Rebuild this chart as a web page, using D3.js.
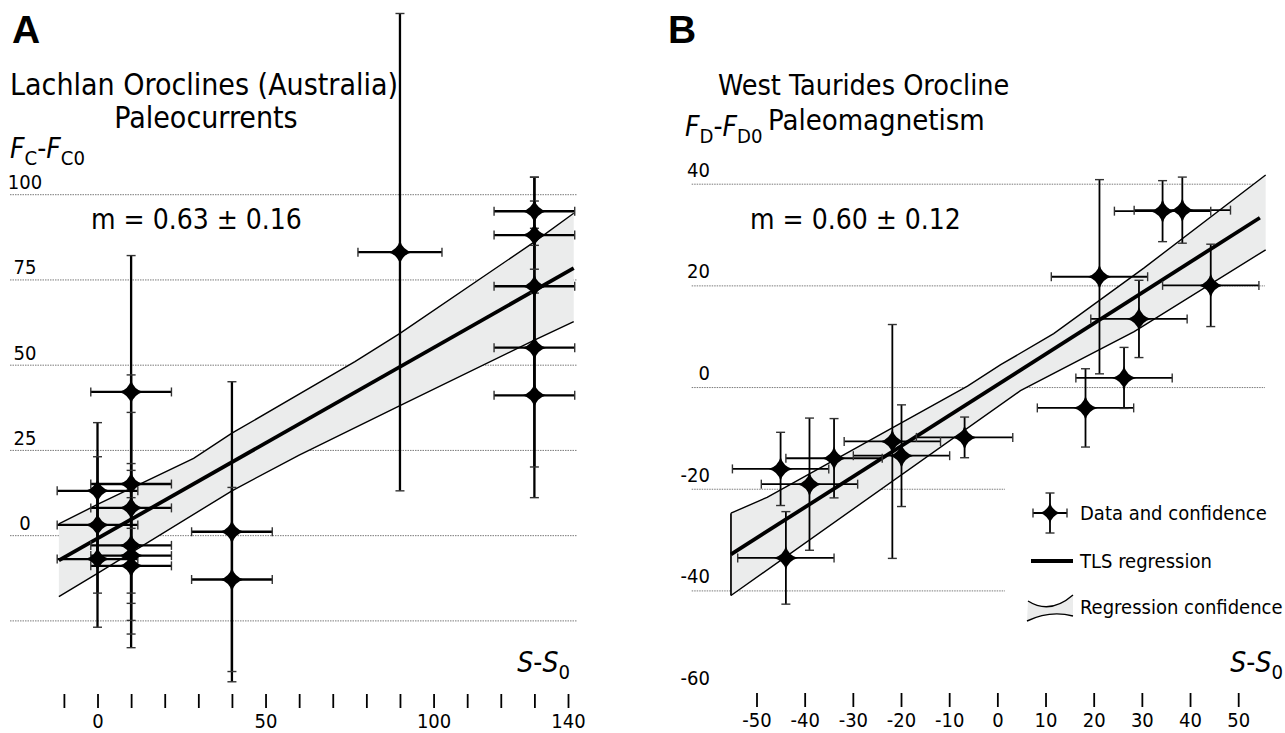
<!DOCTYPE html>
<html>
<head>
<meta charset="utf-8">
<script src="https://cdn.jsdelivr.net/npm/d3@7"></script>
<style>
    body { margin: 0; background: #fff; }
    text { font-family: "DejaVu Sans Condensed", "DejaVu Sans", sans-serif; font-stretch: condensed; fill: #000; }
</style>
</head>
<body>
<svg id="chart" width="1285" height="733"></svg>
<script>
// ---- panel A : Lachlan oroclines, paleocurrents ----
const aX    = [0, 0, 0, 10, 10, 10, 10, 10, 10, 40, 40, 90, 130, 130, 130, 130, 130]
const aY    = [13, 3, -7, 42, 15, 8, -3, -6, -9, 1, -13, 83, 95, 88, 73, 55, 41]
const aXErr = [12, 12, 12, 12, 12, 12, 12, 12, 12, 12, 12, 12.5, 12, 12, 12, 12, 12]
const aYErr = [20, 20, 20, 40, 32, 28, 22, 27, 20, 44, 27, 70, 10, 10, 32, 35, 30]
const aLineX = [-11.5, 141.7]
const aLineY = [-7.4, 78.3]
const aBandUpX = [-11.5, 0, 28.6, 40, 76.6, 90, 130, 141.7]
const aBandUp  = [3.3, 9.0, 22.5, 29.9, 50.9, 59.2, 86, 94.4]
const aBandLoX = [-11.5, 0, 40, 60, 90, 130, 141.7]
const aBandLo  = [-18, -11.2, 13, 23.5, 38, 57.2, 62.6]
const aGrid = [-25, 0, 25, 50, 75, 100]
const aYLabels = [0, 25, 50, 75, 100]
const aTicks = [-10, 0, 10, 20, 30, 40, 50, 60, 70, 80, 90, 100, 110, 120, 130, 140]
const aTickLabels = [0, 50, 100, 140]

// ---- panel B : West Taurides orocline, paleomagnetism ----
const bX    = [-45, -39, -33.9, -43.9, -21.8, -19.9, -6.8, 18.3, 26.3, 21.2, 29.4, 34.3, 38.4, 44.3]
const bY    = [-16.1, -19.1, -14, -33.6, -10.7, -13.5, -9.9, -4.1, 1.8, 21.7, 13.4, 34.6, 34.8, 20]
const bXErr = [10, 10, 10, 10, 10, 10, 10, 10, 10, 10, 10, 10, 10, 10]
const bYErr = [7.2, 13, 7.8, 9.1, 23, 10, 4, 7.7, 6, 19.1, 7.6, 6, 6.5, 8.1]
const bLineX = [-55.3, 54.5]
const bLineY = [-32.9, 33.3]
const bBandUpX = [-55.3, -47.8, -6.2, 0.7, 11.7, 30.4, 55.7]
const bBandUp  = [-24.8, -21.7, 0.2, 4.4, 10.5, 23.4, 41.7]
const bBandLoX = [-55.3, 4.8, 28.4, 55.7]
const bBandLo  = [-41, -0.7, 10.9, 27]
const bGridLong = [0, 20, 40]
const bGridShort = [-40, -20]
const bYLabels = [-60, -40, -20, 0, 20, 40]
const bTicks = [-50, -40, -30, -20, -10, 0, 10, 20, 30, 40, 50]

const legendLabels = ["Data and confidence", "TLS regression", "Regression confidence"]

const svg = d3.select("#chart")

const xA = d3.scaleLinear().domain([-10, 140]).range([63.9, 568])
const yA = d3.scaleLinear().domain([-25, 100]).range([620.4, 194.2])
const xB = d3.scaleLinear().domain([-50, 50]).range([756.5, 1238.2])
const yB = d3.scaleLinear().domain([-60, 40]).range([692.1, 183.7])

// four pointed star used for every data point
const star = (r) => {
    const c = 2.6
    return `M0,${-r}Q${c},${-c} ${r},0Q${c},${c} 0,${r}Q${-c},${c} ${-r},0Q${-c},${-c} 0,${-r}Z`
}

const grid = (g, y, vals, x0, x1) => g
    .attr("transform", `translate(${x0},0)`)
    .call(d3.axisLeft(y).tickValues(vals).tickSize(-(x1 - x0)).tickFormat(""))
    .call(g => g.select(".domain").remove())
    .call(g => g.selectAll(".tick line")
        .attr("stroke", "#7a7a7a")
        .attr("stroke-width", 1)
        .attr("stroke-dasharray", "1.5,1"))

const drawBand = (g, x, y, upX, up, loX, lo, leftEdge) => {
    const upPts = upX.map((d, i) => [x(d), y(up[i])])
    const loPts = loX.map((d, i) => [x(d), y(lo[i])])
    g.append("path")
        .attr("d", d3.line()(upPts.concat(loPts.slice().reverse())) + "Z")
        .attr("fill", "#ebecec")
    g.append("path").attr("d", d3.line()(upPts))
        .attr("fill", "none").attr("stroke", "#000").attr("stroke-width", 1.4)
    g.append("path").attr("d", d3.line()(loPts))
        .attr("fill", "none").attr("stroke", "#000").attr("stroke-width", 1.4)
    if (leftEdge) {
        g.append("line")
            .attr("x1", upPts[0][0]).attr("y1", upPts[0][1])
            .attr("x2", loPts[0][0]).attr("y2", loPts[0][1])
            .attr("stroke", "#000").attr("stroke-width", 1.7)
    }
}

const drawLine = (g, x, y, lx, ly) => {
    g.append("line")
        .attr("x1", x(lx[0])).attr("y1", y(ly[0]))
        .attr("x2", x(lx[1])).attr("y2", y(ly[1]))
        .attr("stroke", "#000").attr("stroke-width", 3.8)
}

const drawPoints = (g, x, y, xs, ys, xe, ye, w) => {
    const pts = xs.map((d, i) => ({ x: d, y: ys[i], xe: xe[i], ye: ye[i] }))
    const cap = 4.5
    const bars = g.append("g").attr("stroke", "#000")
    bars.selectAll(".hbar").data(pts).join("line")
        .attr("x1", d => x(d.x - d.xe)).attr("x2", d => x(d.x + d.xe))
        .attr("y1", d => y(d.y)).attr("y2", d => y(d.y))
        .attr("stroke-width", w)
    bars.selectAll(".vbar").data(pts).join("line")
        .attr("x1", d => x(d.x)).attr("x2", d => x(d.x))
        .attr("y1", d => y(d.y - d.ye)).attr("y2", d => y(d.y + d.ye))
        .attr("stroke-width", w)
    const caps = g.append("g").attr("stroke", "#333").attr("stroke-width", 1.4)
    pts.forEach(d => {
        [d.x - d.xe, d.x + d.xe].forEach(v => caps.append("line")
            .attr("x1", x(v)).attr("x2", x(v))
            .attr("y1", y(d.y) - cap).attr("y2", y(d.y) + cap))
        ;[d.y - d.ye, d.y + d.ye].forEach(v => caps.append("line")
            .attr("x1", x(d.x) - cap).attr("x2", x(d.x) + cap)
            .attr("y1", y(v)).attr("y2", y(v)))
    })
    g.append("g").selectAll("path").data(pts).join("path")
        .attr("d", star(12))
        .attr("transform", d => `translate(${x(d.x)},${y(d.y)})`)
        .attr("fill", "#000")
}

const bottomAxis = (g, x, ticks, labels, top) => g
    .attr("transform", `translate(0,${top})`)
    .call(d3.axisBottom(x).tickValues(ticks).tickSize(14)
        .tickFormat(d => labels.includes(d) ? String(d) : ""))
    .call(g => g.select(".domain").remove())
    .call(g => g.selectAll(".tick line").attr("stroke", "#000").attr("stroke-width", 1.8))
    .call(g => g.selectAll(".tick text")
        .attr("y", 34).attr("dy", 0)
        .attr("fill", "#000")
        .style("font-size", "20px")
        .style("font-family", '"DejaVu Sans Condensed", "DejaVu Sans", sans-serif')
        .style("font-stretch", "condensed"))

// axis title with italic letters and subscripts: parts = [text, italic, sub]
const label = (g, x, y, parts, size, anchor) => {
    const t = g.append("text").attr("x", x).attr("y", y)
        .attr("text-anchor", anchor || "start")
        .style("font-size", size + "px")
    let shift = 0
    parts.forEach(p => {
        const s = t.append("tspan").text(p[0])
        if (p[1]) s.style("font-style", "italic")
        const target = p[2] ? 7 : 0
        s.attr("dy", target - shift)
        shift = target
        if (p[2]) s.style("font-size", (size * 0.72) + "px")
    })
}

/* ------------ PANEL A ------------ */
const gA = svg.append("g")
gA.append("g").call(grid, yA, aGrid, 10, 577)
gA.append("g").selectAll("text").data(aYLabels).join("text")
    .attr("x", 25).attr("y", d => yA(d) - 5)
    .attr("text-anchor", "middle")
    .style("font-size", "20px")
    .text(d => d)

drawBand(gA, xA, yA, aBandUpX, aBandUp, aBandLoX, aBandLo, false)
drawLine(gA, xA, yA, aLineX, aLineY)
drawPoints(gA, xA, yA, aX, aY, aXErr, aYErr, 2.3)
gA.append("g").call(bottomAxis, xA, aTicks, aTickLabels, 694)

gA.append("text").attr("x", 12).attr("y", 43)
    .style("font-family", '"Liberation Sans", Arial, sans-serif')
    .style("font-weight", "bold").style("font-size", "39px").text("A")
gA.append("text").attr("x", 10).attr("y", 95).style("font-size", "30px")
    .text("Lachlan Oroclines (Australia)")
gA.append("text").attr("x", 206).attr("y", 128).attr("text-anchor", "middle")
    .style("font-size", "30px").text("Paleocurrents")
label(gA, 10, 158, [["F", 1, 0], ["C", 0, 1], ["-", 0, 0], ["F", 1, 0], ["C0", 0, 1]], 28)
label(gA, 570, 672, [["S", 1, 0], ["-", 0, 0], ["S", 1, 0], ["0", 0, 1]], 28, "end")
gA.append("text").attr("x", 91).attr("y", 229).style("font-size", "28px")
    .text("m = 0.63 ± 0.16")

/* ------------ PANEL B ------------ */
const gB = svg.append("g")
gB.append("g").call(grid, yB, bGridLong, 691.7, 1265)
gB.append("g").call(grid, yB, bGridShort, 691.7, 1005)
gB.append("g").selectAll("text").data(bYLabels).join("text")
    .attr("x", 710).attr("y", d => yB(d) - 7)
    .attr("text-anchor", "end")
    .style("font-size", "20px")
    .text(d => String(d))

drawBand(gB, xB, yB, bBandUpX, bBandUp, bBandLoX, bBandLo, true)
drawLine(gB, xB, yB, bLineX, bLineY)
drawPoints(gB, xB, yB, bX, bY, bXErr, bYErr, 1.8)
gB.append("g").call(bottomAxis, xB, bTicks, bTicks, 693)

gB.append("text").attr("x", 668).attr("y", 43)
    .style("font-family", '"Liberation Sans", Arial, sans-serif')
    .style("font-weight", "bold").style("font-size", "39px").text("B")
gB.append("text").attr("x", 718).attr("y", 95).style("font-size", "28.5px")
    .text("West Taurides Orocline")
gB.append("text").attr("x", 768).attr("y", 130).style("font-size", "29px")
    .text("Paleomagnetism")
label(gB, 685, 136, [["F", 1, 0], ["D", 0, 1], ["-", 0, 0], ["F", 1, 0], ["D0", 0, 1]], 28)
label(gB, 1283, 672, [["S", 1, 0], ["-", 0, 0], ["S", 1, 0], ["0", 0, 1]], 28, "end")
gB.append("text").attr("x", 750).attr("y", 229).style("font-size", "28px")
    .text("m = 0.60 ± 0.12")

// legend
const lg = gB.append("g")
const lx = 1050, ly = 513
lg.append("line").attr("x1", lx - 17).attr("x2", lx + 17).attr("y1", ly).attr("y2", ly)
    .attr("stroke", "#000").attr("stroke-width", 1.8)
lg.append("line").attr("x1", lx).attr("x2", lx).attr("y1", ly - 20).attr("y2", ly + 20)
    .attr("stroke", "#000").attr("stroke-width", 1.8)
;[[lx - 17, ly, 0], [lx + 17, ly, 0], [lx, ly - 20, 1], [lx, ly + 20, 1]].forEach(c => lg.append("line")
    .attr("x1", c[2] ? c[0] - 4.5 : c[0]).attr("x2", c[2] ? c[0] + 4.5 : c[0])
    .attr("y1", c[2] ? c[1] : c[1] - 4.5).attr("y2", c[2] ? c[1] : c[1] + 4.5)
    .attr("stroke", "#333").attr("stroke-width", 1.4))
lg.append("path").attr("d", star(10)).attr("transform", `translate(${lx},${ly})`).attr("fill", "#000")
lg.append("line").attr("x1", 1031).attr("x2", 1073).attr("y1", 561).attr("y2", 561)
    .attr("stroke", "#000").attr("stroke-width", 3.8)
lg.append("path")
    .attr("d", "M1028,601Q1050,615 1073,595L1073,616Q1050,610 1027,621Z")
    .attr("fill", "#ebecec")
lg.append("path").attr("d", "M1028,601Q1050,615 1073,595")
    .attr("fill", "none").attr("stroke", "#000").attr("stroke-width", 1.4)
lg.append("path").attr("d", "M1027,621Q1050,610 1073,616")
    .attr("fill", "none").attr("stroke", "#000").attr("stroke-width", 1.4)
lg.selectAll(".lt").data(legendLabels).join("text")
    .attr("x", 1080).attr("y", (d, i) => [520, 568, 614][i])
    .style("font-size", "20px")
    .text(d => d)
</script>
</body>
</html>
